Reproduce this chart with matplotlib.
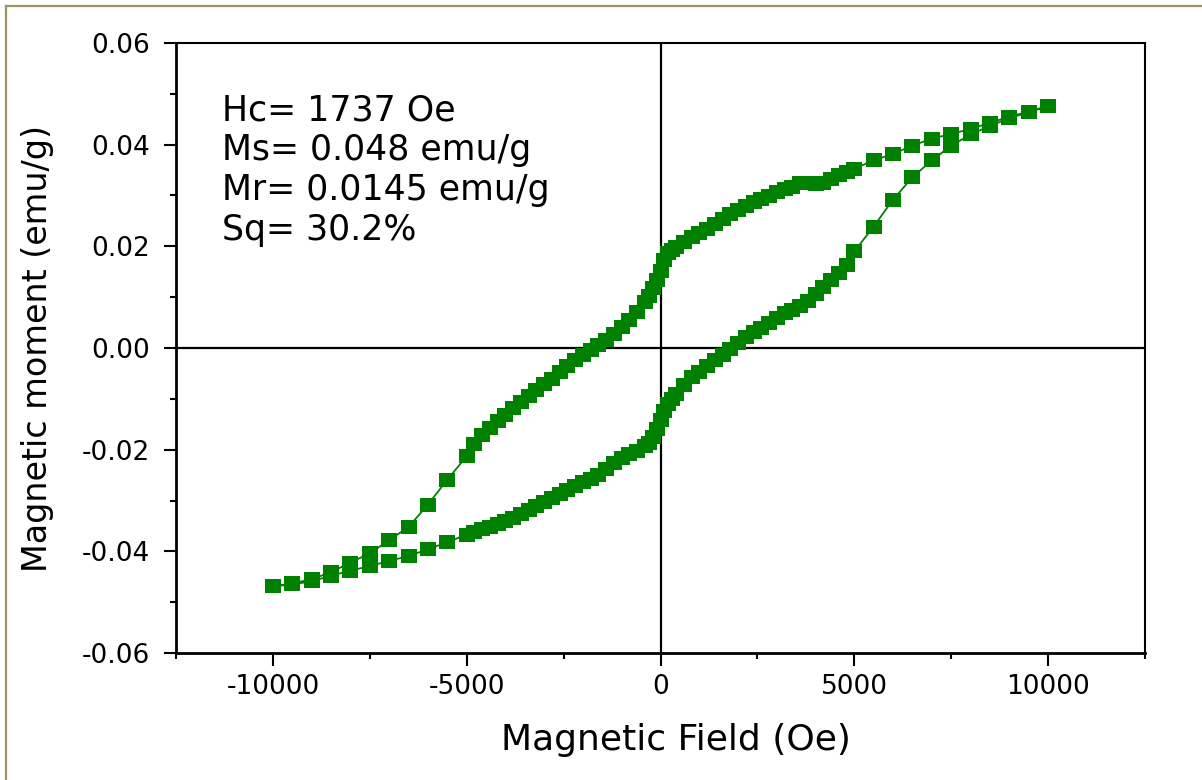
import numpy as np
import matplotlib
matplotlib.use('Agg')
import matplotlib.pyplot as plt
from matplotlib.ticker import MultipleLocator, FormatStrFormatter
from matplotlib.lines import Line2D

plt.rcParams['font.family'] = ['DejaVu Sans']
plt.rcParams['axes.unicode_minus'] = False

# descending branch (+10 kOe -> -10 kOe)
field_down = [10000, 9500, 9000, 8500, 8000, 7500, 7000, 6500, 6000, 5500,
              5000, 4800, 4600, 4400, 4200, 4000, 3800, 3600, 3400, 3200,
              3000, 2800, 2600, 2400, 2200, 2000, 1800, 1600, 1400, 1200,
              1000, 800, 600, 400, 300, 200, 100, 0, -100, -200,
              -300, -400, -600, -800, -1000, -1200, -1400, -1600, -1800, -2000,
              -2200, -2400, -2600, -2800, -3000, -3200, -3400, -3600, -3800, -4000,
              -4200, -4400, -4600, -4800, -5000, -5500, -6000, -6500, -7000, -7500,
              -8000, -8500, -9000, -9500, -10000]
moment_down = [0.0476, 0.0465, 0.0455, 0.0443, 0.0431, 0.0421, 0.0412, 0.0398, 0.0382, 0.0369,
               0.0353, 0.0347, 0.0341, 0.0333, 0.0324, 0.0322, 0.0325, 0.0324, 0.0317, 0.0312,
               0.0306, 0.0300, 0.0294, 0.0287, 0.0280, 0.0272, 0.0263, 0.0253, 0.0244, 0.0235,
               0.0227, 0.0218, 0.0209, 0.0199, 0.0193, 0.0186, 0.0174, 0.0152, 0.0134, 0.0118,
               0.0103, 0.0090, 0.0070, 0.0055, 0.0042, 0.0028, 0.0016, 0.0006, -0.0004, -0.0013,
               -0.0024, -0.0036, -0.0048, -0.0060, -0.0071, -0.0082, -0.0094, -0.0106, -0.0118, -0.0131,
               -0.0144, -0.0157, -0.0171, -0.0188, -0.0213, -0.0259, -0.0308, -0.0352, -0.0378, -0.0404,
               -0.0422, -0.0441, -0.0455, -0.0463, -0.0469]

# ascending branch (-10 kOe -> +10 kOe)
field_up = [-10000, -9500, -9000, -8500, -8000, -7500, -7000, -6500, -6000, -5500,
            -5000, -4800, -4600, -4400, -4200, -4000, -3800, -3600, -3400, -3200,
            -3000, -2800, -2600, -2400, -2200, -2000, -1800, -1600, -1400, -1200,
            -1000, -800, -600, -400, -300, -200, -100, 0, 100, 200,
            300, 400, 600, 800, 1000, 1200, 1400, 1600, 1800, 2000,
            2200, 2400, 2600, 2800, 3000, 3200, 3400, 3600, 3800, 4000,
            4200, 4400, 4600, 4800, 5000, 5500, 6000, 6500, 7000, 7500,
            8000, 8500, 9000, 9500, 10000]
moment_up = [-0.0469, -0.0465, -0.0459, -0.0448, -0.0438, -0.0429, -0.0419, -0.0409, -0.0396, -0.0382,
             -0.0367, -0.0362, -0.0357, -0.0352, -0.0347, -0.0341, -0.0334, -0.0326, -0.0318, -0.0310,
             -0.0302, -0.0295, -0.0287, -0.0279, -0.0271, -0.0264, -0.0258, -0.0250, -0.0238, -0.0226,
             -0.0217, -0.0209, -0.0202, -0.0193, -0.0186, -0.0175, -0.0160, -0.0142, -0.0124, -0.0110,
             -0.0100, -0.0090, -0.0073, -0.0058, -0.0047, -0.0036, -0.0024, -0.0013, -0.0002, 0.0010,
             0.0021, 0.0031, 0.0040, 0.0050, 0.0059, 0.0068, 0.0075, 0.0082, 0.0093, 0.0106,
             0.0120, 0.0134, 0.0147, 0.0163, 0.0190, 0.0239, 0.0292, 0.0336, 0.0369, 0.0398,
             0.0420, 0.0437, 0.0452, 0.0464, 0.0476]

info_lines = ['Hc= 1737 Oe', 'Ms= 0.048 emu/g', 'Mr= 0.0145 emu/g', 'Sq= 30.2%']

field = np.array(field_down + field_up)
moment = np.array(moment_down + moment_up)

fig = plt.figure(figsize=(12.02, 7.80), dpi=100)
ax = fig.add_axes([176/1202, 1 - 653/780, 969/1202, 610/780])

# slightly wide square, like the original symbols
sq = [(-1.25, -1), (1.25, -1), (1.25, 1), (-1.25, 1), (-1.25, -1)]
ax.plot(field, moment, '-', color='#008000', lw=1.3, marker=sq, ms=11.8,
        mfc='#008000', mec='#008000', mew=0, zorder=3)

ax.axhline(0, color='black', lw=1.6, zorder=2)
ax.axvline(0, color='black', lw=1.6, zorder=2)

ax.set_xlim(-12500, 12500)
ax.set_ylim(-0.06, 0.06)
ax.xaxis.set_major_locator(MultipleLocator(5000))
ax.xaxis.set_minor_locator(MultipleLocator(2500))
ax.yaxis.set_major_locator(MultipleLocator(0.02))
ax.yaxis.set_minor_locator(MultipleLocator(0.01))
ax.yaxis.set_major_formatter(FormatStrFormatter('%.2f'))

ax.tick_params(which='major', direction='out', length=9, width=1.5, labelsize=19)
ax.tick_params(which='minor', direction='out', length=4.5, width=1.5)
ax.tick_params(axis='x', pad=6)
ax.tick_params(axis='y', pad=10)
ax.tick_params(top=False, right=False)

for s in ['left', 'bottom']:
    ax.spines[s].set_linewidth(2.0)
for s in ['top', 'right']:
    ax.spines[s].set_linewidth(1.5)

ax.set_xlabel('Magnetic Field (Oe)', fontsize=26, labelpad=17)
ax.xaxis.label.set_x(0.516)
ax.set_ylabel('Magnetic moment (emu/g)', fontsize=24, labelpad=20)

ax.text(0.047, 0.918, '\n'.join(info_lines), transform=ax.transAxes,
        fontsize=25, va='top', ha='left', linespacing=1.22)

# frame remnant along top and left edge of the picture
fig.add_artist(Line2D([6/1202, 1], [1 - 6/780, 1 - 6/780], color='#9c9660', lw=1.6))
fig.add_artist(Line2D([6/1202, 6/1202], [0, 1 - 6/780], color='#9c9660', lw=1.6))

fig.savefig('out.png', dpi=100)
